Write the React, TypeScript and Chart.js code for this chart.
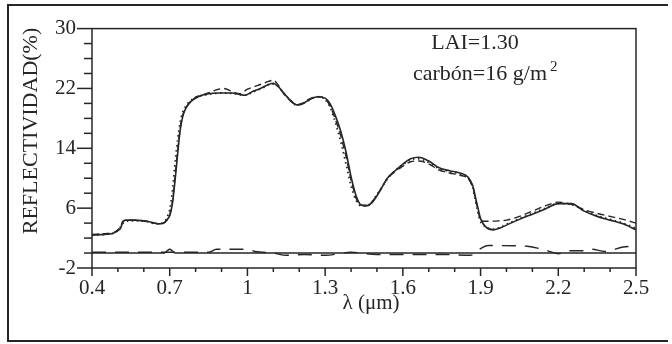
import React, { useEffect, useRef } from 'react';
import { Chart, registerables } from 'chart.js';

Chart.register(...registerables);

// ---- data ----
const solidLambda = [0.40, 0.45, 0.48, 0.50, 0.51, 0.52, 0.53, 0.56, 0.60, 0.63, 0.66, 0.68, 0.69, 0.70, 0.71, 0.72, 0.73, 0.74, 0.75, 0.76, 0.78, 0.81, 0.85, 0.89, 0.94, 0.97, 0.99, 1.02, 1.05, 1.08, 1.10, 1.12, 1.14, 1.17, 1.19, 1.21, 1.24, 1.27, 1.30, 1.32, 1.34, 1.36, 1.38, 1.40, 1.42, 1.44, 1.46, 1.48, 1.51, 1.54, 1.57, 1.60, 1.63, 1.66, 1.70, 1.74, 1.78, 1.82, 1.85, 1.87, 1.88, 1.89, 1.90, 1.92, 1.95, 1.98, 2.01, 2.05, 2.10, 2.15, 2.20, 2.25, 2.30, 2.35, 2.40, 2.45, 2.50];
const solidRefl = [2.4, 2.5, 2.6, 3.0, 3.3, 4.2, 4.4, 4.4, 4.3, 4.1, 3.9, 4.1, 4.5, 5.0, 6.5, 9.5, 13.0, 16.3, 18.2, 19.2, 20.2, 20.9, 21.3, 21.4, 21.4, 21.2, 21.1, 21.6, 22.0, 22.5, 22.7, 22.2, 21.4, 20.3, 19.8, 19.9, 20.5, 20.9, 20.7, 19.9, 18.3, 16.3, 13.6, 10.2, 7.6, 6.4, 6.3, 6.7, 8.2, 10.0, 11.0, 11.9, 12.6, 12.8, 12.3, 11.4, 11.0, 10.7, 10.2, 9.0, 7.5, 6.0, 4.6, 3.5, 3.1, 3.4, 3.9, 4.5, 5.2, 5.9, 6.6, 6.6, 5.6, 4.9, 4.4, 3.9, 3.1];

const dashedLambda = [0.40, 0.45, 0.48, 0.50, 0.51, 0.52, 0.55, 0.60, 0.64, 0.67, 0.69, 0.70, 0.71, 0.72, 0.73, 0.74, 0.75, 0.77, 0.80, 0.84, 0.88, 0.91, 0.94, 0.97, 1.00, 1.04, 1.07, 1.10, 1.12, 1.14, 1.17, 1.19, 1.21, 1.24, 1.27, 1.30, 1.32, 1.34, 1.36, 1.38, 1.40, 1.42, 1.44, 1.46, 1.48, 1.51, 1.54, 1.57, 1.60, 1.63, 1.66, 1.70, 1.74, 1.78, 1.82, 1.85, 1.87, 1.88, 1.89, 1.90, 1.93, 1.97, 2.00, 2.05, 2.10, 2.15, 2.20, 2.25, 2.30, 2.35, 2.40, 2.45, 2.50];
const dashedRefl = [2.5, 2.6, 2.7, 3.1, 3.5, 4.3, 4.4, 4.3, 4.0, 3.9, 4.4, 5.1, 6.8, 10.0, 13.5, 16.6, 18.4, 19.8, 20.8, 21.3, 21.8, 22.0, 21.6, 21.3, 21.9, 22.4, 22.8, 23.1, 22.4, 21.3, 20.2, 19.8, 20.0, 20.6, 20.9, 20.6, 19.6, 17.8, 15.7, 13.0, 9.8, 7.3, 6.4, 6.4, 6.8, 8.3, 9.9, 10.9, 11.6, 12.2, 12.3, 11.9, 11.1, 10.7, 10.4, 10.0, 8.8, 7.3, 5.8, 4.3, 4.25, 4.3, 4.4, 4.9, 5.6, 6.3, 6.8, 6.5, 5.8, 5.3, 4.9, 4.5, 4.0];

const dottedLambda = [0.40, 0.45, 0.50, 0.52, 0.55, 0.60, 0.65, 0.68, 0.69, 0.70, 0.71, 0.72, 0.73, 0.74, 0.75, 0.77, 0.80, 0.85, 0.90, 0.95, 0.99, 1.02, 1.06, 1.09, 1.11, 1.13, 1.16, 1.19, 1.22, 1.25, 1.28, 1.30, 1.32, 1.34, 1.36, 1.38, 1.40, 1.42, 1.44, 1.47, 1.50, 1.54, 1.57, 1.60, 1.63, 1.66, 1.70, 1.74, 1.78, 1.82, 1.85, 1.87, 1.88, 1.89, 1.90, 1.92, 1.95, 1.98, 2.01, 2.05, 2.10, 2.15, 2.20, 2.25, 2.30, 2.35, 2.40, 2.45, 2.50];
const dottedRefl = [2.4, 2.5, 3.0, 4.0, 4.3, 4.3, 3.9, 4.2, 4.8, 5.8, 8.2, 11.8, 15.0, 17.4, 18.8, 20.0, 20.8, 21.2, 21.4, 21.3, 21.1, 21.5, 22.1, 22.6, 22.5, 21.8, 20.6, 19.8, 20.1, 20.7, 20.9, 20.5, 19.4, 17.4, 14.9, 12.0, 9.0, 7.0, 6.3, 6.5, 7.8, 9.9, 11.0, 11.8, 12.5, 12.6, 12.1, 11.3, 10.9, 10.6, 10.1, 8.7, 7.0, 5.4, 4.2, 3.5, 3.2, 3.5, 4.0, 4.6, 5.3, 6.0, 6.6, 6.5, 5.7, 5.0, 4.5, 4.0, 3.3];

const baseLambda = [0.40, 0.68, 0.69, 0.70, 0.71, 0.72, 2.50];
const baseVal = [0.0, 0.0, 0.3, 0.5, 0.3, 0.0, 0.0];

const longDashLambda = [0.40, 0.85, 0.88, 1.00, 1.03, 1.10, 1.15, 1.22, 1.30, 1.40, 1.50, 1.60, 1.75, 1.86, 1.90, 1.93, 2.08, 2.15, 2.20, 2.24, 2.30, 2.33, 2.38, 2.45, 2.50];
const longDashVal = [0.1, 0.1, 0.5, 0.5, 0.2, 0.0, -0.3, -0.2, -0.3, 0.1, -0.2, -0.2, -0.2, -0.3, 0.6, 1.0, 0.9, 0.4, -0.1, 0.3, 0.3, 0.5, 0.2, 0.8, 0.9];

const xTickLabels = [0.4, 0.7, 1, 1.3, 1.6, 1.9, 2.2, 2.5];
const yTickLabels = [-2, 6, 14, 22, 30];

const INK = '#262626';
const SERIF = '"Liberation Serif", "Times New Roman", serif';

const pts = (xs: number[], ys: number[]) => xs.map((x, i) => ({ x, y: ys[i] }));

const decorPlugin = {
  id: 'decor',
  afterDraw(chart: any) {
    const ctx = chart.ctx as CanvasRenderingContext2D;
    const { left, right, top, bottom } = chart.chartArea;
    const xs = chart.scales.x;
    const ys = chart.scales.y;
    ctx.save();
    ctx.strokeStyle = INK;
    ctx.lineWidth = 1.5;
    ctx.setLineDash([]);
    ctx.strokeRect(left, top, right - left, bottom - top);
    // y ticks
    for (let k = -2; k <= 30; k += 2) {
      const py = ys.getPixelForValue(k);
      const len = yTickLabels.includes(k) ? 15 : 8;
      ctx.beginPath();
      ctx.moveTo(left, py);
      ctx.lineTo(left - len, py);
      ctx.stroke();
    }
    // x ticks
    for (let k = 4; k <= 25; k++) {
      const v = k / 10;
      const px = xs.getPixelForValue(v);
      const len = xTickLabels.some((t) => Math.abs(t - v) < 1e-6) ? 8 : 4;
      ctx.beginPath();
      ctx.moveTo(px, bottom);
      ctx.lineTo(px, bottom + len);
      ctx.stroke();
    }
    // outer frame (top, left, bottom)
    ctx.lineWidth = 2;
    ctx.beginPath();
    ctx.moveTo(668, 5);
    ctx.lineTo(8, 5);
    ctx.lineTo(8, 341);
    ctx.lineTo(668, 341);
    ctx.stroke();

    ctx.fillStyle = INK;
    // y title
    ctx.save();
    ctx.translate(31, 131);
    ctx.rotate(-Math.PI / 2);
    ctx.font = `22px ${SERIF}`;
    ctx.textAlign = 'center';
    ctx.textBaseline = 'middle';
    ctx.fillText('REFLECTIVIDAD(%)', 0, 0);
    ctx.restore();
    // x title
    ctx.font = `21px ${SERIF}`;
    ctx.textAlign = 'center';
    ctx.textBaseline = 'middle';
    ctx.fillText('λ (μm)', 371, 303);
    // annotation
    ctx.font = `22px ${SERIF}`;
    ctx.textAlign = 'center';
    ctx.textBaseline = 'alphabetic';
    ctx.fillText('LAI=1.30', 475, 49);
    ctx.textAlign = 'left';
    const t = 'carbón=16 g/m';
    ctx.fillText(t, 413, 80);
    const w = ctx.measureText(t).width;
    ctx.font = `15px ${SERIF}`;
    ctx.fillText('2', 413 + w + 3, 71);
    ctx.restore();
  },
};

export default function App() {
  const ref = useRef<HTMLCanvasElement | null>(null);
  useEffect(() => {
    if (!ref.current) return;
    const common = { borderColor: INK, pointRadius: 0, fill: false, cubicInterpolationMode: 'monotone' as const };
    const chart = new Chart(ref.current, {
      type: 'line',
      data: {
        datasets: [
          { ...common, label: 'solid', data: pts(solidLambda, solidRefl), borderWidth: 1.6 },
          { ...common, label: 'dashed', data: pts(dashedLambda, dashedRefl), borderWidth: 1.4, borderDash: [7, 4] },
          { ...common, label: 'dotted', data: pts(dottedLambda, dottedRefl), borderWidth: 1.8, borderDash: [1.5, 3.5] },
          { ...common, label: 'base', data: pts(baseLambda, baseVal), borderWidth: 1.4 },
          { ...common, label: 'longdash', data: pts(longDashLambda, longDashVal), borderWidth: 1.4, borderDash: [14, 9] },
        ],
      },
      options: {
        responsive: false,
        animation: false,
        events: [],
        layout: { padding: { top: 24, right: 36, left: 0, bottom: 0 } },
        plugins: { legend: { display: false }, tooltip: { enabled: false }, title: { display: false } },
        scales: {
          x: {
            type: 'linear',
            min: 0.4,
            max: 2.5,
            afterFit: (s: any) => { s.height = 76; },
            grid: { display: false, drawTicks: false },
            border: { display: false },
            ticks: {
              stepSize: 0.1,
              autoSkip: false,
              maxRotation: 0,
              padding: 8,
              color: INK,
              font: { family: SERIF, size: 21 },
              callback: (v: any) => {
                const r = Math.round(Number(v) * 10) / 10;
                return xTickLabels.includes(r) ? String(r) : '';
              },
            },
          },
          y: {
            type: 'linear',
            min: -2,
            max: 30,
            afterFit: (s: any) => { s.width = 92; },
            grid: { display: false, drawTicks: false },
            border: { display: false },
            ticks: {
              stepSize: 2,
              autoSkip: false,
              padding: 16,
              color: INK,
              font: { family: SERIF, size: 21 },
              callback: (v: any) => {
                const r = Math.round(Number(v));
                return yTickLabels.includes(r) ? String(r) : '';
              },
            },
          },
        },
      },
      plugins: [decorPlugin],
    });
    return () => chart.destroy();
  }, []);
  return (
    <div style={{ position: 'fixed', left: 0, top: 0, width: 672, height: 344, background: '#fff' }}>
      <canvas ref={ref} width={672} height={344} style={{ display: 'block', width: 672, height: 344 }} />
    </div>
  );
}
